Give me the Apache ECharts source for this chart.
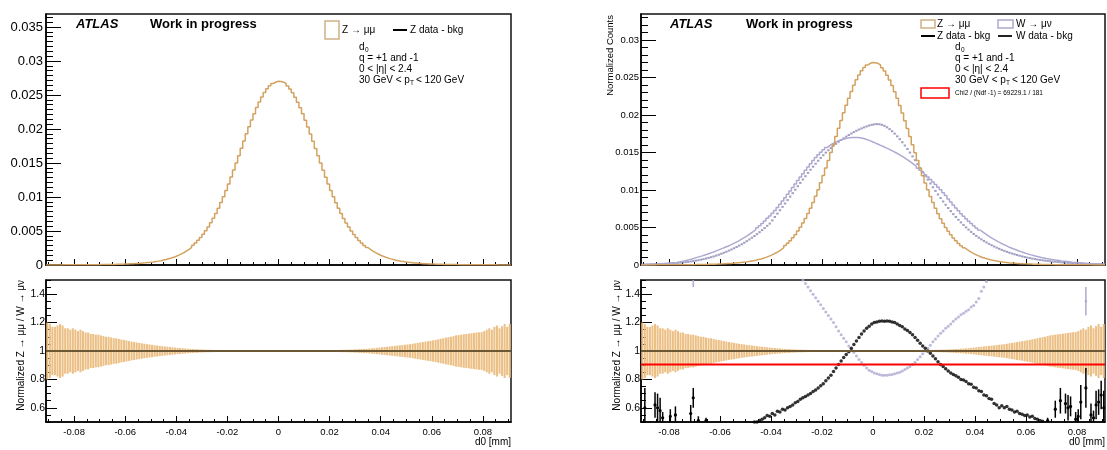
<!DOCTYPE html>
<html>
<head>
<meta charset="utf-8">
<script src="https://cdn.jsdelivr.net/npm/echarts@6.0.0/dist/echarts.min.js"></script>
<style>
  html, body { margin: 0; padding: 0; background: #fff; }
  #chart { width: 1107px; height: 450px; }
</style>
</head>
<body>
<div id="chart"></div>
<script>
// binning of d0 [mm]
const binLo = -0.091, binW = 0.001
const xMin = -0.091, xMax = 0.091

// tick labels
const xLabelTicks = [-0.08, -0.06, -0.04, -0.02, 0, 0.02, 0.04, 0.06, 0.08]
const yTopLeftTicks = [0, 0.005, 0.01, 0.015, 0.02, 0.025, 0.03, 0.035]
const yTopRightTicks = [0, 0.005, 0.01, 0.015, 0.02, 0.025, 0.03]
const yRatioTicks = [0.6, 0.8, 1, 1.2, 1.4]

// Z -> mumu MC, normalized, units of 1e-5 (182 bins)
const zMC = [
  1,1,1,1,1,1,2,2,2,2,
  2,2,3,3,3,3,4,4,4,5,
  5,6,6,7,7,8,9,10,11,12,
  14,15,17,19,21,23,26,29,32,36,
  40,45,51,57,64,72,81,91,102,115,
  129,145,163,183,206,231,259,290,325,363,
  405,452,503,559,620,686,758,835,917,1004,
  1096,1192,1292,1395,1500,1607,1715,1822,1928,2031,
  2130,2225,2314,2396,2470,2535,2590,2634,2668,2690,
  2700,
  2698,2688,2665,2630,2586,2531,2466,2392,2310,2222,
  2127,2028,1925,1820,1713,1605,1498,1393,1290,1190,
  1094,1002,915,833,756,684,618,557,501,450,
  403,361,323,288,257,229,204,182,162,144,
  128,114,101,90,80,71,63,56,50,44,
  39,35,31,28,25,22,20,18,16,15,
  13,12,11,10,9,8,7,7,6,6,
  5,5,4,4,4,3,3,3,3,2,
  2,2,2,2,2,1,1,1,1,1,
  1
]

// W -> munu MC, normalized, units of 1e-5
const wMC = [
  3,4,5,6,7,9,11,13,16,19,
  22,26,30,35,41,48,55,63,72,81,
  92,102,112,122,133,144,156,168,181,195,
  209,222,236,250,265,281,298,316,335,355,
  376,398,421,445,470,497,525,555,588,622,
  655,690,728,768,810,853,897,942,988,1034,
  1080,1126,1172,1218,1263,1307,1350,1392,1432,1470,
  1505,1537,1566,1592,1614,1633,1649,1663,1675,1684,
  1692,1696,1699,1700,1699,1696,1690,1681,1669,1655,
  1640,1625,1610,1595,1580,1565,1549,1532,1515,1497,
  1478,1458,1437,1415,1392,1368,1343,1317,1290,1262,
  1233,1203,1172,1140,1107,1073,1038,1002,965,927,
  880,840,800,760,722,685,650,616,583,552,
  522,494,467,441,417,394,372,351,331,312,
  294,277,261,245,230,216,203,190,178,166,
  155,145,135,126,117,109,101,94,87,81,
  75,69,64,59,54,50,46,42,38,35,
  32,29,26,23,21,19,17,15,13,12,
  10,9
]

// W data - bkg, normalized, units of 1e-5
const wData = [
  8,8,9,10,11,12,13,14,15,17,
  19,21,23,25,28,31,34,38,42,47,
  52,58,64,71,78,86,95,104,114,125,
  137,150,163,177,192,207,223,240,258,277,
  297,318,340,363,387,412,438,465,493,522,
  552,595,640,685,730,775,820,866,912,958,
  1004,1050,1095,1140,1184,1228,1270,1311,1351,1390,
  1428,1464,1498,1530,1560,1589,1616,1642,1667,1690,
  1712,1733,1753,1772,1790,1806,1821,1835,1848,1860,
  1869,1876,1879,1877,1869,1855,1836,1812,1784,1752,
  1716,1678,1637,1593,1547,1499,1449,1398,1346,1294,
  1242,1190,1138,1087,1037,988,940,893,847,803,
  760,718,678,640,603,568,534,502,471,441,
  413,388,364,342,321,301,282,264,247,231,
  216,202,189,176,164,153,143,133,124,115,
  107,99,92,85,79,73,68,63,58,54,
  50,46,43,40,37,34,31,29,27,25,
  23,21,19,18,17,15,14,13,12,11,
  10,10
]

// relative stat. uncertainty of Z MC (ratio band half-width)
const zErr = [
  0.20,0.19,0.17,0.17,0.18,0.19,0.18,0.16,0.16,0.15,
  0.16,0.15,0.14,0.15,0.14,0.13,0.13,0.12,0.12,0.115,
  0.115,0.11,0.105,0.10,0.10,0.095,0.09,0.09,0.085,0.08,
  0.078,0.074,0.07,0.066,0.063,0.06,0.057,0.054,0.051,0.048,
  0.046,0.043,0.041,0.039,0.036,0.034,0.032,0.03,0.028,0.026,
  0.024,0.022,0.021,0.019,0.018,0.016,0.015,0.014,0.013,0.012,
  0.011,0.010,0.0095,0.009,0.0085,0.008,0.0075,0.007,0.0065,0.006,
  0.006,0.0055,0.0055,0.005,0.005,0.005,0.0045,0.0045,0.0045,0.004,
  0.004,0.004,0.004,0.004,0.004,0.004,0.004,0.004,0.004,0.004,
  0.004,0.004,0.004,0.004,0.004,0.004,0.004,0.004,0.004,0.004,
  0.004,0.004,0.0045,0.0045,0.0045,0.005,0.005,0.005,0.0055,0.0055,
  0.006,0.006,0.0065,0.007,0.0075,0.008,0.0085,0.009,0.0095,0.010,
  0.011,0.012,0.013,0.014,0.015,0.016,0.017,0.019,0.020,0.022,
  0.024,0.026,0.028,0.030,0.032,0.034,0.036,0.038,0.040,0.042,
  0.044,0.046,0.048,0.051,0.054,0.057,0.060,0.063,0.066,0.069,
  0.072,0.075,0.078,0.082,0.086,0.09,0.094,0.097,0.10,0.105,
  0.11,0.112,0.115,0.118,0.12,0.122,0.125,0.127,0.13,0.132,
  0.133,0.14,0.15,0.16,0.15,0.17,0.18,0.16,0.175,0.19,
  0.17,0.19
]

// black ratio points, bins 43..157
const blackFirstBin = 43
const blackRatio = [
  0.49,0.50,0.50,0.51,0.52,0.53,0.545,0.54,0.56,0.55,
  0.575,0.57,0.59,0.585,0.60,0.61,0.62,0.635,0.645,0.66,
  0.67,0.68,0.69,0.70,0.715,0.725,0.74,0.755,0.77,0.79,
  0.81,0.83,0.855,0.88,0.905,0.93,0.955,0.975,0.995,1.02,
  1.045,1.07,1.095,1.12,1.14,1.16,1.175,1.19,1.20,1.205,
  1.21,1.212,1.21,1.212,1.21,1.205,1.20,1.19,1.18,1.17,
  1.155,1.145,1.13,1.115,1.095,1.075,1.055,1.035,1.02,1.0,
  0.985,0.965,0.945,0.925,0.905,0.89,0.875,0.86,0.845,0.835,
  0.825,0.815,0.80,0.795,0.785,0.77,0.765,0.745,0.74,0.72,
  0.715,0.69,0.685,0.665,0.66,0.63,0.62,0.60,0.615,0.60,
  0.61,0.59,0.585,0.57,0.575,0.56,0.555,0.545,0.55,0.535,
  0.54,0.525,0.52,0.51,0.505
]
// black tail points: [d0, ratio, error]
const blackTail = [
  [-0.0895,0.60,0.14],[-0.0855,0.62,0.09],[-0.0845,0.60,0.10],[-0.0835,0.58,0.09],
  [-0.0825,0.53,0.04],[-0.0795,0.54,0.05],[-0.0775,0.55,0.06],[-0.0715,0.56,0.06],
  [-0.0705,0.67,0.07],[-0.0685,0.51,0.03],[-0.0655,0.51,0.02],
  [0.0685,0.51,0.02],[0.0715,0.59,0.06],[0.0735,0.65,0.09],[0.0755,0.63,0.07],
  [0.0765,0.60,0.09],[0.0775,0.61,0.07],[0.0795,0.52,0.05],[0.0805,0.54,0.05],
  [0.0815,0.64,0.12],[0.0835,0.74,0.14],[0.0855,0.55,0.08],[0.0865,0.53,0.05],
  [0.0875,0.62,0.10],[0.0885,0.64,0.09],[0.0895,0.69,0.10],[0.0905,0.60,0.12]
]

// lavender ratio points, bins 63..135
const lavFirstBin = 63
const lavRatio = [
  1.50,1.475,1.45,1.425,1.40,1.375,1.35,1.325,1.30,1.275,
  1.25,1.225,1.20,1.17,1.14,1.115,1.09,1.065,1.035,1.01,
  0.99,0.965,0.94,0.92,0.90,0.88,0.865,0.855,0.845,0.84,
  0.835,0.83,0.83,0.83,0.832,0.835,0.84,0.845,0.85,0.86,
  0.87,0.88,0.89,0.905,0.92,0.94,0.96,0.98,1.0,1.02,
  1.04,1.065,1.085,1.105,1.125,1.14,1.16,1.175,1.19,1.21,
  1.225,1.24,1.255,1.265,1.28,1.29,1.31,1.32,1.345,1.37,
  1.42,1.45,1.49
]
const lavTail = [[-0.0705,1.62,0.17],[0.0835,1.35,0.10]]

const ratioRef = 1
const chi2Level = 0.905

const FONT = '"Liberation Sans", Arial, Helvetica, sans-serif'
const ZCOL = '#d3a261', ZBOX = '#cfb186'
const WCOL = '#ada9d1', WDATA = '#8b88b3'
const BAND = '#ecbf84', REFLINE = '#6c5834'

function ticksFrom(a, b, step) {
  const out = []
  for (let k = 0; a + k * step <= b + 1e-9; k++) out.push(+(a + k * step).toFixed(6))
  return out
}
const xMinor = ticksFrom(-0.09, 0.09, 0.005)
const yTLMinor = ticksFrom(0, 0.0368, 0.005 / 7)
const yTRMinor = ticksFrom(0, 0.0335, 0.001)
const yRatioMinor = ticksFrom(0.5, 1.5, 0.05)

function histLine(vals, scale) {
  const pts = []
  vals.forEach((v, i) => {
    const lo = binLo + i * binW
    pts.push([lo, v * scale], [lo + binW, v * scale])
  })
  return pts
}
function binCenter(i) { return binLo + (i + 0.5) * binW }

function axisPair(dim, gridIndex, min, max, major, minor, o) {
  const base = {
    type: 'value', gridIndex, min, max,
    position: dim === 'x' ? 'bottom' : 'left',
    splitLine: { show: false }
  }
  return [
    Object.assign({}, base, {
      axisLine: { show: true, onZero: false, lineStyle: { color: '#000', width: 1.5 } },
      axisTick: { show: true, inside: true, length: o.majorLen, customValues: major, lineStyle: { color: '#000', width: 1 } },
      axisLabel: {
        show: o.labels, customValues: major, fontSize: o.fontSize, color: '#000',
        fontFamily: FONT, margin: o.margin,
        formatter: v => String(+(+v).toFixed(4))
      }
    }),
    Object.assign({}, base, {
      axisLine: { show: false, onZero: false },
      axisTick: { show: true, inside: true, length: o.minorLen, customValues: minor, lineStyle: { color: '#000', width: 1 } },
      axisLabel: { show: false }
    })
  ]
}

const grids = [
  { left: 46, top: 14, width: 465, height: 251 },
  { left: 46, top: 280, width: 465, height: 142 },
  { left: 641, top: 14, width: 464, height: 251 },
  { left: 641, top: 280, width: 464, height: 142 }
].map(g => Object.assign(g, { show: true, borderColor: '#111', borderWidth: 1.5, containLabel: false, outerBoundsMode: 'none' }))

const xAxes = [
  ...axisPair('x', 0, xMin, xMax, xLabelTicks, xMinor, { labels: false, majorLen: 6, minorLen: 3, fontSize: 9.5, margin: 5 }),
  ...axisPair('x', 1, xMin, xMax, xLabelTicks, xMinor, { labels: true, majorLen: 6, minorLen: 3, fontSize: 9.5, margin: 5 }),
  ...axisPair('x', 2, xMin, xMax, xLabelTicks, xMinor, { labels: false, majorLen: 6, minorLen: 3, fontSize: 9.5, margin: 5 }),
  ...axisPair('x', 3, xMin, xMax, xLabelTicks, xMinor, { labels: true, majorLen: 6, minorLen: 3, fontSize: 9.5, margin: 5 })
]
const yAxes = [
  ...axisPair('y', 0, 0, 0.0369, yTopLeftTicks, yTLMinor, { labels: true, majorLen: 15, minorLen: 7, fontSize: 13, margin: 3 }),
  ...axisPair('y', 1, 0.5, 1.5, yRatioTicks, yRatioMinor, { labels: true, majorLen: 11, minorLen: 5, fontSize: 10.5, margin: 1 }),
  ...axisPair('y', 2, 0, 0.03347, yTopRightTicks, yTRMinor, { labels: true, majorLen: 15, minorLen: 7, fontSize: 9.5, margin: 2 }),
  ...axisPair('y', 3, 0.5, 1.5, yRatioTicks, yRatioMinor, { labels: true, majorLen: 11, minorLen: 5, fontSize: 10.5, margin: 1 })
]

function onGrid(g, s) { return Object.assign({ xAxisIndex: 2 * g, yAxisIndex: 2 * g }, s) }

function bandSeries(g) {
  return onGrid(g, {
    type: 'custom', clip: true,
    data: zErr.map((e, i) => [binCenter(i), ratioRef - e, ratioRef + e]),
    encode: { x: 0, y: [1, 2] },
    renderItem(params, api) {
      const x = api.value(0)
      const a = api.coord([x - binW * 0.4, api.value(2)])
      const b = api.coord([x + binW * 0.4, api.value(1)])
      return { type: 'rect', shape: { x: a[0], y: a[1], width: b[0] - a[0], height: Math.max(b[1] - a[1], 1) }, style: { fill: BAND } }
    }
  })
}
function hLine(g, level, color) {
  return onGrid(g, {
    type: 'line', data: [[xMin, level], [xMax, level]], showSymbol: false,
    lineStyle: { color, width: 2 }
  })
}
function errSeries(g, data, color, r) {
  return onGrid(g, {
    type: 'custom', clip: true, data, encode: { x: 0, y: 1 },
    renderItem(params, api) {
      const x = api.value(0), v = api.value(1), e = api.value(2)
      const t = api.coord([x, v + e]), b = api.coord([x, v - e]), c = api.coord([x, v])
      return {
        type: 'group', children: [
          { type: 'line', shape: { x1: c[0], y1: t[1], x2: c[0], y2: b[1] }, style: { stroke: color, lineWidth: 1.5 } },
          { type: 'circle', shape: { cx: c[0], cy: c[1], r }, style: { fill: color } }
        ]
      }
    }
  })
}

const series = [
  onGrid(0, { type: 'line', data: histLine(zMC, 1e-5), showSymbol: false, lineStyle: { color: ZCOL, width: 1.5 } }),
  bandSeries(1),
  hLine(1, ratioRef, REFLINE),
  onGrid(2, { type: 'line', data: histLine(wMC, 1e-5), showSymbol: false, lineStyle: { color: WCOL, width: 1.5 } }),
  onGrid(2, {
    type: 'scatter', symbol: 'rect', symbolSize: [2.4, 2],
    data: wData.map((v, i) => [binCenter(i), v * 1e-5]),
    itemStyle: { color: WDATA }
  }),
  onGrid(2, { type: 'line', data: histLine(zMC, 1e-5), showSymbol: false, lineStyle: { color: ZCOL, width: 1.5 } }),
  bandSeries(3),
  hLine(3, ratioRef, REFLINE),
  hLine(3, chi2Level, '#ff0000'),
  onGrid(3, {
    type: 'scatter', symbol: 'circle', symbolSize: 3,
    data: lavRatio.map((v, k) => [binCenter(lavFirstBin + k), v]),
    itemStyle: { color: WCOL }
  }),
  errSeries(3, lavTail, WCOL, 1.3),
  onGrid(3, {
    type: 'scatter', symbol: 'circle', symbolSize: 3.5,
    data: blackRatio.map((v, k) => [binCenter(blackFirstBin + k), v]),
    itemStyle: { color: '#000' }
  }),
  errSeries(3, blackTail, '#000', 1.6)
]

function txt(x, y, text, size, o) {
  o = o || {}
  return {
    type: 'text', x, y, rotation: o.rot || 0, z: 100,
    style: {
      text, fill: o.color || '#000',
      font: [o.font, size + 'px', FONT].filter(Boolean).join(' '),
      textAlign: o.align || 'left', textVerticalAlign: 'middle',
      align: o.align || 'left', verticalAlign: 'middle'
    }
  }
}
function box(x, y, w, h, color) {
  return { type: 'rect', z: 100, shape: { x, y, width: w, height: h }, style: { fill: 'none', stroke: color, lineWidth: 1.5 } }
}
function dash(x1, x2, y, color) {
  return { type: 'line', z: 100, shape: { x1, y1: y, x2, y2: y }, style: { stroke: color, lineWidth: 2 } }
}

const graphic = [
  // left panel
  txt(76, 24, 'ATLAS', 13, { font: 'italic bold' }),
  txt(150, 24, 'Work in progress', 13, { font: 'bold' }),
  box(325, 21, 14, 18, ZBOX),
  txt(342, 30, 'Z \u2192 \u03bc\u03bc', 10),
  dash(393, 407, 30, '#000'),
  txt(410, 30, 'Z data - bkg', 10),
  txt(359, 47, 'd', 10), txt(365, 50, '0', 6.5),
  txt(359, 58, 'q = +1 and -1', 10),
  txt(359, 69, '0 < |\u03b7| < 2.4', 10),
  txt(359, 80, '30 GeV < p', 10), txt(410, 83, 'T', 6.5), txt(416, 80, '< 120 GeV', 10),
  txt(511, 442, 'd0 [mm]', 10, { align: 'right' }),
  txt(21, 280, 'Normalized Z \u2192 \u03bc\u03bc / W \u2192 \u03bc\u03bd', 10, { align: 'right', rot: Math.PI / 2 }),
  // right panel
  txt(670, 24, 'ATLAS', 13, { font: 'italic bold' }),
  txt(746, 24, 'Work in progress', 13, { font: 'bold' }),
  box(921, 20, 14, 8, ZBOX),
  txt(937, 24, 'Z \u2192 \u03bc\u03bc', 10),
  box(998, 20, 15, 8, WCOL),
  txt(1016, 24, 'W \u2192 \u03bc\u03bd', 10),
  dash(921, 935, 36, '#000'),
  txt(937, 36, 'Z data - bkg', 10),
  dash(998, 1012, 36, '#222'),
  txt(1016, 36, 'W data - bkg', 10),
  txt(955, 47, 'd', 10), txt(961, 50, '0', 6.5),
  txt(955, 58, 'q = +1 and -1', 10),
  txt(955, 69, '0 < |\u03b7| < 2.4', 10),
  txt(955, 80, '30 GeV < p', 10), txt(1006, 83, 'T', 6.5), txt(1012, 80, '< 120 GeV', 10),
  box(921, 88, 28, 10, '#ff0000'),
  txt(955, 93, 'Chi2 / (Ndf -1) = 69229.1 / 181', 6.5),
  txt(610, 15, 'Normalized Counts', 9.5, { align: 'right', rot: Math.PI / 2 }),
  txt(617, 280, 'Normalized Z \u2192 \u03bc\u03bc / W \u2192 \u03bc\u03bd', 10, { align: 'right', rot: Math.PI / 2 }),
  txt(1105, 442, 'd0 [mm]', 10, { align: 'right' })
]

const chart = echarts.init(document.getElementById('chart'), null, { renderer: 'canvas' })
chart.setOption({
  animation: false,
  backgroundColor: '#fff',
  textStyle: { fontFamily: FONT },
  grid: grids,
  xAxis: xAxes,
  yAxis: yAxes,
  series,
  graphic
})
</script>
</body>
</html>
